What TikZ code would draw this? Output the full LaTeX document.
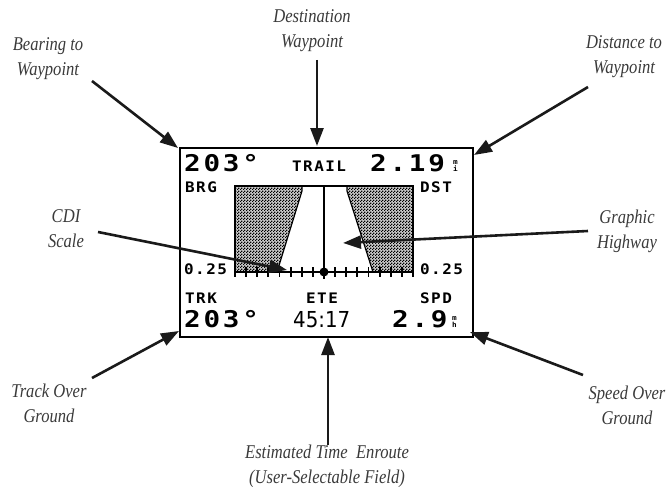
\documentclass[tikz,border=0pt]{standalone}
\usepackage{fontspec}
\usetikzlibrary{arrows.meta,patterns}
\newfontfamily\labfont[FakeStretch=0.85]{Liberation Serif}
\newfontfamily\lcdfont[FakeStretch=1.2,LetterSpace=12]{DejaVu Sans Mono}
\newfontfamily\lcdsmfont[FakeStretch=1.1,LetterSpace=10]{DejaVu Sans Mono}
\newfontfamily\etefont[FakeStretch=0.9]{DejaVu Sans}
\definecolor{labgray}{HTML}{3A3A3A}
\definecolor{ink}{HTML}{1A1A1A}
\pgfdeclarepatternformonly{finecheck}{\pgfqpoint{0pt}{0pt}}{\pgfqpoint{3pt}{3pt}}{\pgfqpoint{3pt}{3pt}}{%
  \pgfpathrectangle{\pgfqpoint{0pt}{0pt}}{\pgfqpoint{1.5pt}{1.5pt}}%
  \pgfpathrectangle{\pgfqpoint{1.5pt}{1.5pt}}{\pgfqpoint{1.5pt}{1.5pt}}%
  \pgfusepath{fill}}
\begin{document}
\begin{tikzpicture}[x=1pt,y=-1pt,
  lab/.style={font=\labfont\itshape\fontsize{19.5}{25}\selectfont, text=labgray, align=center, inner sep=0pt},
  arr/.style={draw=ink, line width=2.6pt, -{Triangle[length=18pt,width=13pt]}},
  big/.style={font=\lcdfont\bfseries\fontsize{23}{23}\selectfont, anchor=base west, inner sep=0pt},
  small/.style={font=\lcdsmfont\bfseries\fontsize{14.5}{14.5}\selectfont, anchor=base west, inner sep=0pt},
  unit/.style={font=\lcdsmfont\bfseries\fontsize{7}{7}\selectfont, align=center, anchor=south west, inner sep=0pt},
  etestyle/.style={font=\etefont\fontsize{22}{22}\selectfont, anchor=base west, inner sep=0pt},
  checker/.style={fill=gray!40, postaction={pattern=finecheck}},
  tick/.style={line width=1.8pt}]
\useasboundingbox (0,0) rectangle (672,487);
% labels
\node[lab] (brg) at (48,59) {Bearing to\\Waypoint};
\node[lab] (dest) at (312,31) {Destination\\Waypoint};
\node[lab] (dist) at (624,57) {Distance to\\Waypoint};
\node[lab] (cdi) at (66,229) {CDI\\Scale};
\node[lab] (hwy) at (627,231) {Graphic\\Highway};
\node[lab] (trk) at (49,403) {Track Over\\Ground};
\node[lab] (spd) at (627,405) {Speed Over\\Ground};
\node[lab] (ete) at (327,466) {Estimated Time\ \ Enroute\\(User-Selectable Field)};
% screen
\node[draw, line width=1.8pt, minimum width=293pt, minimum height=189pt, inner sep=0pt, anchor=north west] (screen) at (179,147) {};
% highway graphic
\path[checker] (235,186) -- (302,186) -- (302,191) -- (277,272) -- (235,272) -- cycle;
\path[checker] (347,186) -- (413,186) -- (413,272) -- (373,272) -- (347,191) -- cycle;
\draw[line width=2pt] (235,272) -- (235,186) -- (413,186) -- (413,272);
\draw[line width=1.2pt] (302,186) -- (302,191) -- (277,272);
\draw[line width=1.2pt] (347,186) -- (347,191) -- (373,272);
\draw[line width=1.8pt] (324,186) -- (324,272);
\draw[line width=2pt] (235,272) -- (413,272);
\foreach \k in {1,...,8} {
  \draw[tick] ({324-11.125*\k},267) -- ++(0,10);
  \draw[tick] ({324+11.125*\k},267) -- ++(0,10);
}
\fill (324,272) circle (4.5pt);
\draw[tick] (324,266) -- (324,279);
% screen texts
\node[big] (brgv) at (184,171) {203°};
\node[small] (trail) at (292,171) {TRAIL};
\node[big] (dstv) at (370,171) {2.19};
\node[unit] (dstu) at (453,172) {m\\i};
\node[small] (brgl) at (185,192) {BRG};
\node[small] (dstl) at (420,192) {DST};
\node[small] (scl) at (184,274) {0.25};
\node[small] (scr) at (420,274) {0.25};
\node[small] (trkl) at (185,303) {TRK};
\node[small] (etel) at (306,303) {ETE};
\node[small] (spdl) at (420,303) {SPD};
\node[big] (trkv) at (184,327) {203°};
\node[etestyle] (etev) at (293,327) {45:17};
\node[big] (spdv) at (392,327) {2.9};
\node[unit] (spdu) at (452,328) {m\\h};
% arrows
\coordinate (bA) at (92,81);   \coordinate (bB) at (178,148);
\coordinate (dA) at (317,60);  \coordinate (dB) at (317,146);
\coordinate (sA) at (588,87);  \coordinate (sB) at (474,155);
\coordinate (cA) at (98,232);  \coordinate (cB) at (287,270);
\coordinate (gA) at (588,231); \coordinate (gB) at (343,243);
\coordinate (tA) at (92,378);  \coordinate (tB) at (179,331);
\coordinate (eA) at (328,445); \coordinate (eB) at (328,337);
\coordinate (pA) at (583,375); \coordinate (pB) at (470,332);
\draw[arr] (bA) -- (bB);
\draw[arr] (dA) -- (dB);
\draw[arr] (sA) -- (sB);
\draw[arr] (cA) -- (cB);
\draw[arr] (gA) -- (gB);
\draw[arr] (tA) -- (tB);
\draw[arr] (eA) -- (eB);
\draw[arr] (pA) -- (pB);
\end{tikzpicture}
\end{document}
